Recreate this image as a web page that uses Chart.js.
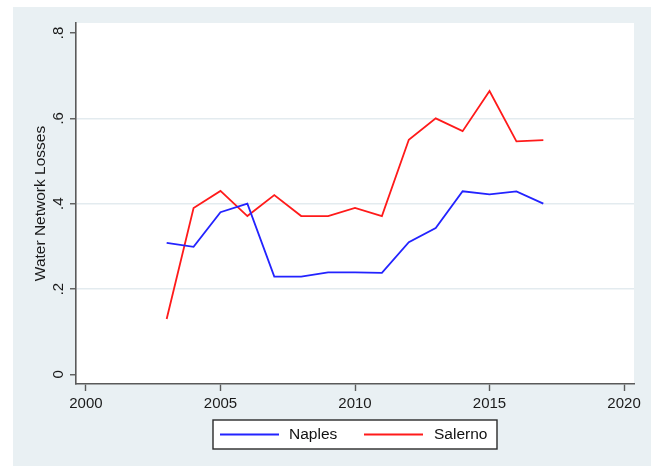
<!DOCTYPE html>
<html>
<head>
<meta charset="utf-8">
<script src="https://cdn.jsdelivr.net/npm/chart.js@4.4.1/dist/chart.umd.min.js"></script>
<style>
  html, body { margin: 0; padding: 0; background: #ffffff; }
  #wrap { width: 651px; height: 466px; }
</style>
</head>
<body>
<div id="wrap"><canvas id="c" width="651" height="466"></canvas></div>
<script>
// ---- data ----
const years = [2003, 2004, 2005, 2006, 2007, 2008, 2009, 2010, 2011, 2012, 2013, 2014, 2015, 2016, 2017];
const naples = [0.308, 0.299, 0.380, 0.400, 0.229, 0.229, 0.239, 0.239, 0.238, 0.310, 0.343, 0.429, 0.422, 0.429, 0.400];
const salerno = [0.130, 0.390, 0.430, 0.371, 0.420, 0.371, 0.371, 0.390, 0.371, 0.550, 0.600, 0.570, 0.664, 0.546, 0.549];
const seriesNames = ['Naples', 'Salerno'];
const xTickValues = [2000, 2005, 2010, 2015, 2020];
const yTickValues = [0, 0.2, 0.4, 0.6, 0.8];
const yTickLabels = ['0', '.2', '.4', '.6', '.8'];
const yTitle = 'Water Network Losses';

const BG = '#e9f0f3';
const AXIS = '#5a5a5a';
const GRID = '#e3ebef';
const FONT = '"Liberation Sans", Arial, sans-serif';

const bgPlugin = {
  id: 'bg',
  beforeDraw(chart) {
    const ctx = chart.ctx, a = chart.chartArea;
    ctx.save();
    ctx.fillStyle = '#ffffff';
    ctx.fillRect(0, 0, chart.width, chart.height);
    ctx.fillStyle = BG;
    ctx.fillRect(13, 7, chart.width - 13, chart.height - 7);
    ctx.fillStyle = '#ffffff';
    ctx.fillRect(a.left, a.top, a.right - a.left, a.bottom - a.top);
    ctx.restore();
  }
};

const legendPlugin = {
  id: 'boxLegend',
  afterDraw(chart) {
    const ctx = chart.ctx;
    const bx = 213, by = 420, bw = 284, bh = 29;
    ctx.save();
    ctx.fillStyle = '#ffffff';
    ctx.fillRect(bx, by, bw, bh);
    ctx.strokeStyle = '#2a2a2a';
    ctx.lineWidth = 1.4;
    ctx.strokeRect(bx, by, bw, bh);
    const items = [{ x0: 220, x1: 279, tx: 289 }, { x0: 364, x1: 423, tx: 434 }];
    chart.data.datasets.forEach((ds, i) => {
      const it = items[i];
      const cy = by + bh / 2;
      ctx.strokeStyle = ds.borderColor;
      ctx.lineWidth = 2;
      ctx.beginPath();
      ctx.moveTo(it.x0, cy);
      ctx.lineTo(it.x1, cy);
      ctx.stroke();
      ctx.fillStyle = '#111111';
      ctx.font = '15.5px ' + FONT;
      ctx.textBaseline = 'middle';
      ctx.textAlign = 'left';
      ctx.fillText(ds.label, it.tx, cy + 0.5);
    });
    ctx.restore();
  }
};

const ctx = document.getElementById('c').getContext('2d');
new Chart(ctx, {
  type: 'line',
  data: {
    datasets: [
      { label: seriesNames[0], data: years.map((y, i) => ({ x: y, y: naples[i] })), borderColor: '#2323ff', borderWidth: 1.8, pointRadius: 0, tension: 0, fill: false },
      { label: seriesNames[1], data: years.map((y, i) => ({ x: y, y: salerno[i] })), borderColor: '#ff1a1a', borderWidth: 1.8, pointRadius: 0, tension: 0, fill: false }
    ]
  },
  options: {
    responsive: false,
    animation: false,
    layout: { padding: { left: 13, top: 23, right: 17, bottom: 0 } },
    plugins: { legend: { display: false }, tooltip: { enabled: false } },
    scales: {
      x: {
        type: 'linear',
        min: 1999.63,
        max: 2020.37,
        afterBuildTicks(scale) { scale.ticks = xTickValues.map(v => ({ value: v })); },
        afterFit(scale) { scale.height = 82; },
        grid: { drawOnChartArea: false, drawTicks: true, tickLength: 7, tickColor: AXIS, tickWidth: 1.4 },
        border: { display: true, color: AXIS, width: 1.6 },
        ticks: { color: '#1a1a1a', font: { family: FONT, size: 15 }, padding: 4, maxRotation: 0, minRotation: 0,
          callback: v => String(v) }
      },
      y: {
        type: 'linear',
        min: -0.0225,
        max: 0.8234,
        afterBuildTicks(scale) { scale.ticks = yTickValues.map(v => ({ value: v })); },
        afterFit(scale) { scale.width = 63; },
        grid: {
          drawOnChartArea: true, drawTicks: true, tickLength: 6, tickColor: AXIS, tickWidth: 1.4, lineWidth: 1.5,
          color: c => (c.tick && (c.tick.value === 0.2 || c.tick.value === 0.4 || c.tick.value === 0.6)) ? GRID : 'rgba(0,0,0,0)'
        },
        border: { display: true, color: AXIS, width: 1.6 },
        ticks: {
          color: '#1a1a1a', font: { family: FONT, size: 15 }, padding: 5,
          minRotation: 90, maxRotation: 90, crossAlign: 'center',
          callback: (v) => { const i = yTickValues.indexOf(v); return i >= 0 ? yTickLabels[i] : ''; }
        },
        title: { display: true, text: yTitle, color: '#1a1a1a', font: { family: FONT, size: 15.5 }, padding: { top: 18, bottom: 0 } }
      }
    }
  },
  plugins: [bgPlugin, legendPlugin]
});
</script>
</body>
</html>
